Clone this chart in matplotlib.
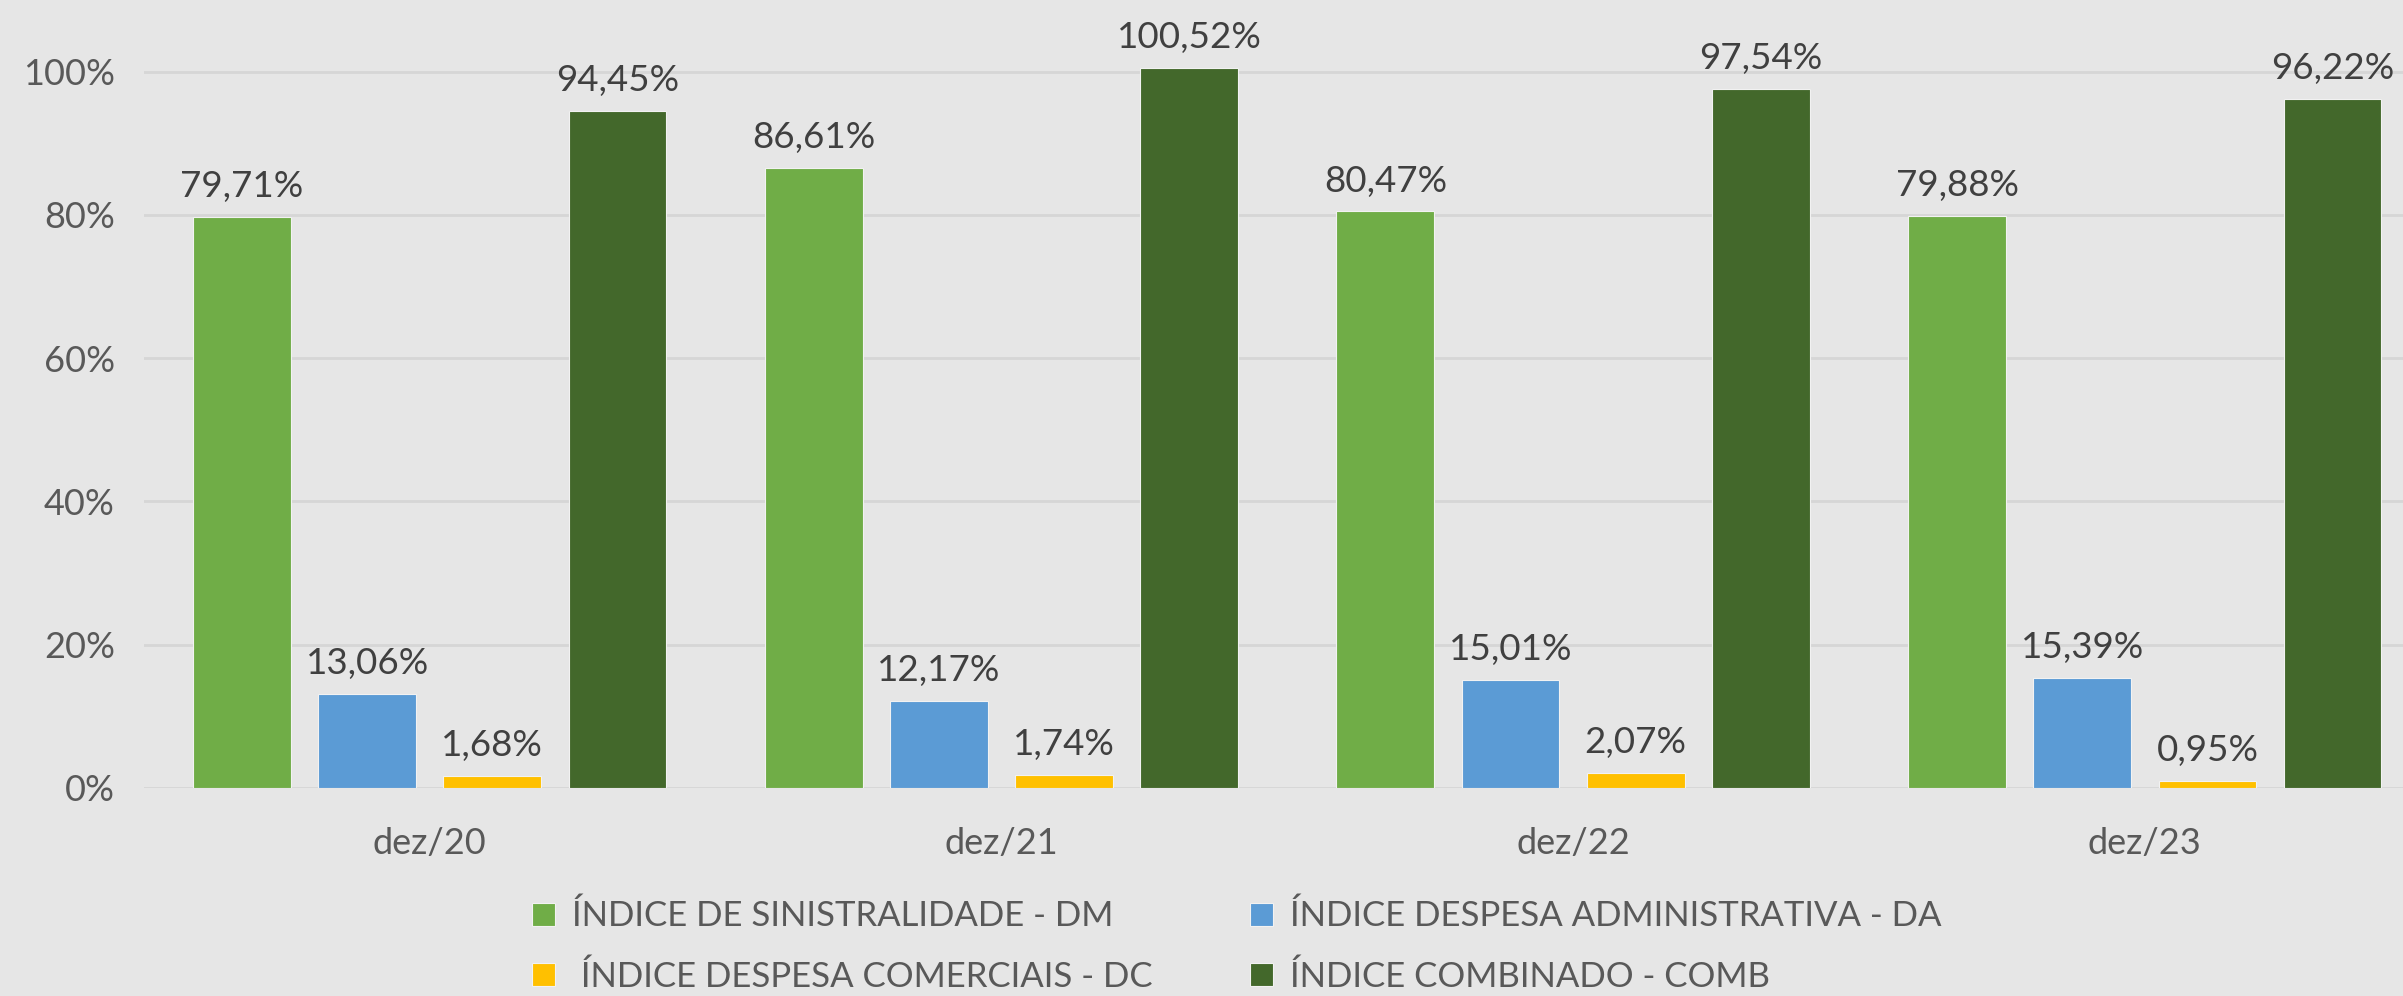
import matplotlib
matplotlib.use('Agg')
import matplotlib.pyplot as plt
import numpy as np

plt.rcParams['font.family'] = ['Lato', 'DejaVu Sans']

categories = ['dez/20', 'dez/21', 'dez/22', 'dez/23']
series_names = ['ÍNDICE DE SINISTRALIDADE - DM', 'ÍNDICE DESPESA ADMINISTRATIVA - DA',
                ' ÍNDICE DESPESA COMERCIAIS - DC', 'ÍNDICE COMBINADO - COMB']
dm = [79.71, 86.61, 80.47, 79.88]
da = [13.06, 12.17, 15.01, 15.39]
dc = [1.68, 1.74, 2.07, 0.95]
comb = [94.45, 100.52, 97.54, 96.22]
colors = ['#70AD47', '#5B9BD5', '#FFC000', '#43682B']

bg = '#E6E6E6'
fig = plt.figure(figsize=(24.03, 9.96), dpi=100, facecolor=bg)
ax = fig.add_axes([0.0599, 0.209, 0.9516, 0.791])
ax.set_facecolor(bg)

x = np.arange(len(categories))
width = 0.171
pitch = 0.219
handles = []
for i, (vals, name, c) in enumerate(zip([dm, da, dc, comb], series_names, colors)):
    pos = x + (i - 1.5) * pitch
    b = ax.bar(pos, [v / 100 for v in vals], width, color=c, edgecolor='#F2F2F2',
               linewidth=0.8, label=name, zorder=3)
    handles.append(b)
    for p, v in zip(pos, vals):
        ax.annotate(f'{v:.2f}'.replace('.', ',') + '%', (p, v / 100),
                    xytext=(0, 10), textcoords='offset points', ha='center', va='bottom',
                    fontsize=26.5, color='#404040', annotation_clip=False)

ax.set_xlim(-0.5, len(categories) - 0.5)
ax.set_ylim(0, 1.1)
ax.set_yticks([0, 0.2, 0.4, 0.6, 0.8, 1.0])
ax.set_yticklabels(['0%', '20%', '40%', '60%', '80%', '100%'])
ax.set_xticks(x)
ax.set_xticklabels(categories)
ax.tick_params(axis='both', length=0, labelsize=26, labelcolor='#595959')
ax.tick_params(axis='y', pad=21)
ax.tick_params(axis='x', pad=28)
ax.grid(axis='y', color='#D6D6D6', linewidth=2, zorder=0)
for s in ax.spines.values():
    s.set_visible(False)

order = [0, 2, 1, 3]
fig.legend([handles[i] for i in order], [series_names[i] for i in order],
           loc='center', bbox_to_anchor=(0.5147, 0.05), ncol=2, frameon=False,
           fontsize=25, labelcolor='#595959', handlelength=0.65, handleheight=0.65,
           handletextpad=0.5, columnspacing=2.8, labelspacing=0.8)

fig.savefig('out.png', dpi=100, facecolor=bg)
